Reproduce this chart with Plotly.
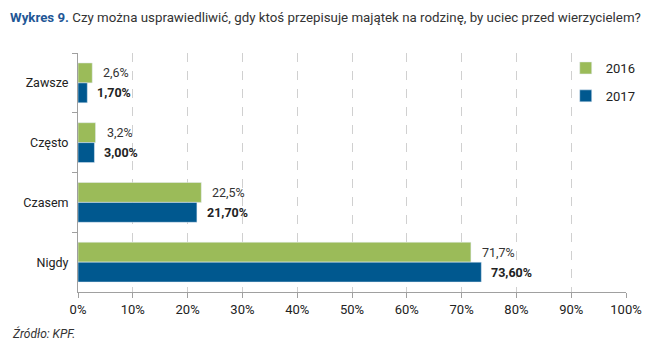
import plotly.graph_objects as go

categories = ["Zawsze", "Często", "Czasem", "Nigdy"]
values_2016 = [2.6, 3.2, 22.5, 71.7]
values_2017 = [1.70, 3.00, 21.70, 73.60]
labels_2016 = ["2,6%", "3,2%", "22,5%", "71,7%"]
labels_2017 = ["1,70%", "3,00%", "21,70%", "73,60%"]
x_ticks = [0, 10, 20, 30, 40, 50, 60, 70, 80, 90, 100]
x_ticklabels = [f"{v}%" for v in x_ticks]

FONT = "Roboto, Arial"
GREEN = "#9bbb59"
BLUE = "#00588f"

fig = go.Figure()
fig.add_trace(go.Bar(y=categories, x=values_2016, orientation="h", name="2016",
                     legendgroup="a", marker_color=GREEN, text=labels_2016, textposition="none"))
fig.add_trace(go.Bar(y=categories, x=values_2017, orientation="h", name="2017",
                     legendgroup="b", marker_color=BLUE, text=labels_2017, textposition="none"))

for i, c in enumerate(categories):
    fig.add_annotation(x=values_2016[i], y=c, text=labels_2016[i], xanchor="left",
                       yanchor="middle", xshift=9, yshift=10, showarrow=False,
                       font=dict(family=FONT, size=12.5, color="#333333"))
    fig.add_annotation(x=values_2017[i], y=c, text="<b>" + labels_2017[i] + "</b>",
                       xanchor="left", yanchor="middle", xshift=8, yshift=-10,
                       showarrow=False, font=dict(family=FONT, size=12.5, color="#222222"))

fig.add_annotation(xref="paper", yref="paper", x=-70/548, y=1 + 36/239, xanchor="left",
                   yanchor="middle", showarrow=False,
                   text="<b><span style='color:#1f5796'>Wykres 9.</span></b> Czy można usprawiedliwić, gdy ktoś przepisuje majątek na rodzinę, by uciec przed wierzycielem?",
                   font=dict(family=FONT, size=13.3, color="#333333"))
fig.add_annotation(xref="paper", yref="paper", x=-68/548, y=-41/239, xanchor="left",
                   yanchor="middle", showarrow=False, text="<i>Źródło: KPF.</i>",
                   font=dict(family=FONT, size=12, color="#333333"))

fig.update_layout(
    width=650, height=362,
    margin=dict(l=78, r=24, t=53, b=70, autoexpand=False),
    paper_bgcolor="white", plot_bgcolor="white",
    barmode="group", bargap=1/3, bargroupgap=0,
    font=dict(family=FONT, size=13, color="#222222"),
    showlegend=True,
    legend=dict(x=0.89, y=1.0, xanchor="left", yanchor="top",
                font=dict(family=FONT, size=13, color="#222222"),
                itemwidth=30, tracegroupgap=8, bgcolor="rgba(0,0,0,0)"),
    xaxis=dict(range=[0, 100], tickvals=x_ticks, ticktext=x_ticklabels, automargin=False,
               showgrid=True, gridcolor="#d0d0d0", griddash="dash", gridwidth=1,
               showline=True, linecolor="#a0a0a0", linewidth=1,
               ticks="outside", ticklen=5, tickcolor="#a0a0a0",
               tickfont=dict(family=FONT, size=13, color="#222222"), zeroline=False),
    yaxis=dict(autorange="reversed", showline=True, linecolor="#a0a0a0", linewidth=1,
               automargin=False, ticklabelstandoff=6,
               ticks="outside", ticklen=5, tickcolor="#a0a0a0", tickson="boundaries",
               tickfont=dict(family=FONT, size=12.5, color="#222222"), showgrid=False),
)

fig.write_html("out.html", config={"displayModeBar": False},
               post_script="document.body.style.margin='0';")
